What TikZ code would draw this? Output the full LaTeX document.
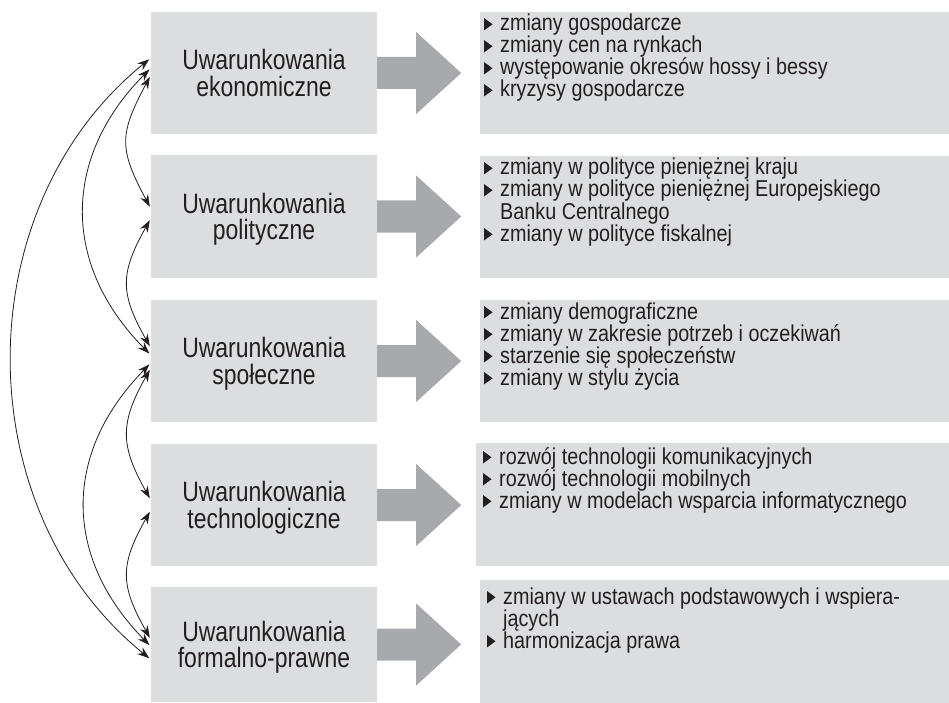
\documentclass[tikz,border=0pt]{standalone}
\usepackage{fontspec}
\setmainfont{Liberation Sans}[FakeStretch=0.82]
\newfontfamily\rfont{Liberation Sans}[FakeStretch=0.86]
\usetikzlibrary{arrows.meta,calc}
\definecolor{boxgray}{HTML}{DCDDDE}
\definecolor{arrgray}{HTML}{A7A9AC}
\definecolor{ink}{HTML}{231F20}
\newcommand\nodep[1]{\raisebox{0pt}[\height][0pt]{#1}}
% bullet line: name, x, baseline y, text
\newcommand\rl[4]{\node[rtext] (#1) at (#2,#3) {#4};
  \fill[ink] ($(#1.base west)+(-16,-0.5)$) -- ++(0,-12.5) -- ++(8.5,6.25) -- cycle;}
% continuation line without bullet
\newcommand\rc[4]{\node[rtext] (#1) at (#2,#3) {#4};}
\begin{document}
\begin{tikzpicture}[x=1pt,y=-1pt,
 lbox/.style={fill=boxgray, minimum width=226pt, minimum height=122pt, inner sep=0pt, align=center, text=ink, font=\fontsize{28pt}{26.5pt}\selectfont},
 rbox/.style={fill=boxgray, anchor=north west, minimum width=470pt, minimum height=122pt, inner sep=0pt},
 rtext/.style={anchor=base west, inner sep=0pt, text=ink, font=\rfont\fontsize{23pt}{22pt}\selectfont},
 conn/.style={draw=ink, line width=0.8pt, {Stealth[length=12pt,width=8.5pt]}-{Stealth[length=12pt,width=8.5pt]}, shorten <=2pt, shorten >=2pt},
 garrow/.style={fill=arrgray}
]
\useasboundingbox (0,0) rectangle (949,703);

% left boxes
\node[lbox] (L1) at (264,73) {Uwarunkowania\\\nodep{ekonomiczne}};
\node[lbox] (L2) at (264,216.5) {Uwarunkowania\\\nodep{polityczne}};
\node[lbox] (L3) at (264,361) {Uwarunkowania\\\nodep{społeczne}};
\node[lbox] (L4) at (264,505) {Uwarunkowania\\\nodep{technologiczne}};
\node[lbox, minimum height=115pt] (L5) at (264,644.5) {Uwarunkowania\\\nodep{formalno-prawne}};

% right boxes
\node[rbox] (R1) at (480,12) {};
\node[rbox] (R2) at (480,156) {};
\node[rbox] (R3) at (480,300) {};
\node[rbox, minimum width=474pt, minimum height=123pt] (R4) at (476,443) {};
\node[rbox, minimum height=124pt] (R5) at (480,580) {};

% texts of right boxes
\rl{T1a}{500}{31}{zmiany gospodarcze}
\rl{T1b}{500}{53}{zmiany cen na rynkach}
\rl{T1c}{500}{75}{występowanie okresów hossy i bessy}
\rl{T1d}{500}{97}{kryzysy gospodarcze}

\rl{T2a}{500}{175}{zmiany w polityce pieniężnej kraju}
\rl{T2b}{500}{197}{zmiany w polityce pieniężnej Europejskiego}
\rc{T2c}{500}{219}{Banku Centralnego}
\rl{T2d}{500}{241}{zmiany w polityce fiskalnej}

\rl{T3a}{500}{319}{zmiany demograficzne}
\rl{T3b}{500}{341}{zmiany w zakresie potrzeb i oczekiwań}
\rl{T3c}{500}{363}{starzenie się społeczeństw}
\rl{T3d}{500}{385}{zmiany w stylu życia}

\rl{T4a}{499}{464}{rozwój technologii komunikacyjnych}
\rl{T4b}{499}{486}{rozwój technologii mobilnych}
\rl{T4c}{499}{508}{zmiany w modelach wsparcia informatycznego}

\rl{T5a}{503}{604}{zmiany w ustawach podstawowych i wspiera-}
\rc{T5b}{503}{626}{jących}
\rl{T5c}{503}{648}{harmonizacja prawa}

% gray block arrows
\foreach \n in {L1,L2,L3,L4,L5}{
  \fill[garrow] ($(\n.east)+(0,-16)$) -- ++(39,0) -- ++(0,-25) -- ++(45,41) -- ++(-45,41) -- ++(0,-25) -- ++(-39,0) -- cycle;
}

% connectors
\draw[conn] ($(L1.west)+(0,-15)$) .. controls +(-185,150) and +(-185,-150) .. ($(L5.west)+(0,15)$);
\draw[conn] ($(L1.west)+(0,-5)$) .. controls +(-89,90) and +(-89,-90) .. ($(L3.west)+(0,-6)$);
\draw[conn] ($(L3.west)+(0,2)$) .. controls +(-88,90) and +(-88,-90) .. ($(L5.west)+(0,2)$);
\draw[conn] ($(L1.west)+(0,2)$) .. controls +(-32,60) and +(-32,-60) .. ($(L2.west)+(0,-8)$);
\draw[conn] ($(L2.west)+(0,2)$) .. controls +(-31,55) and +(-31,-55) .. ($(L3.west)+(0,-13)$);
\draw[conn] ($(L3.west)+(0,7)$) .. controls +(-31,55) and +(-31,-55) .. ($(L4.west)+(0,-5)$);
\draw[conn] ($(L4.west)+(0,5)$) .. controls +(-31,55) and +(-31,-55) .. ($(L5.west)+(0,-5)$);
\end{tikzpicture}
\end{document}
